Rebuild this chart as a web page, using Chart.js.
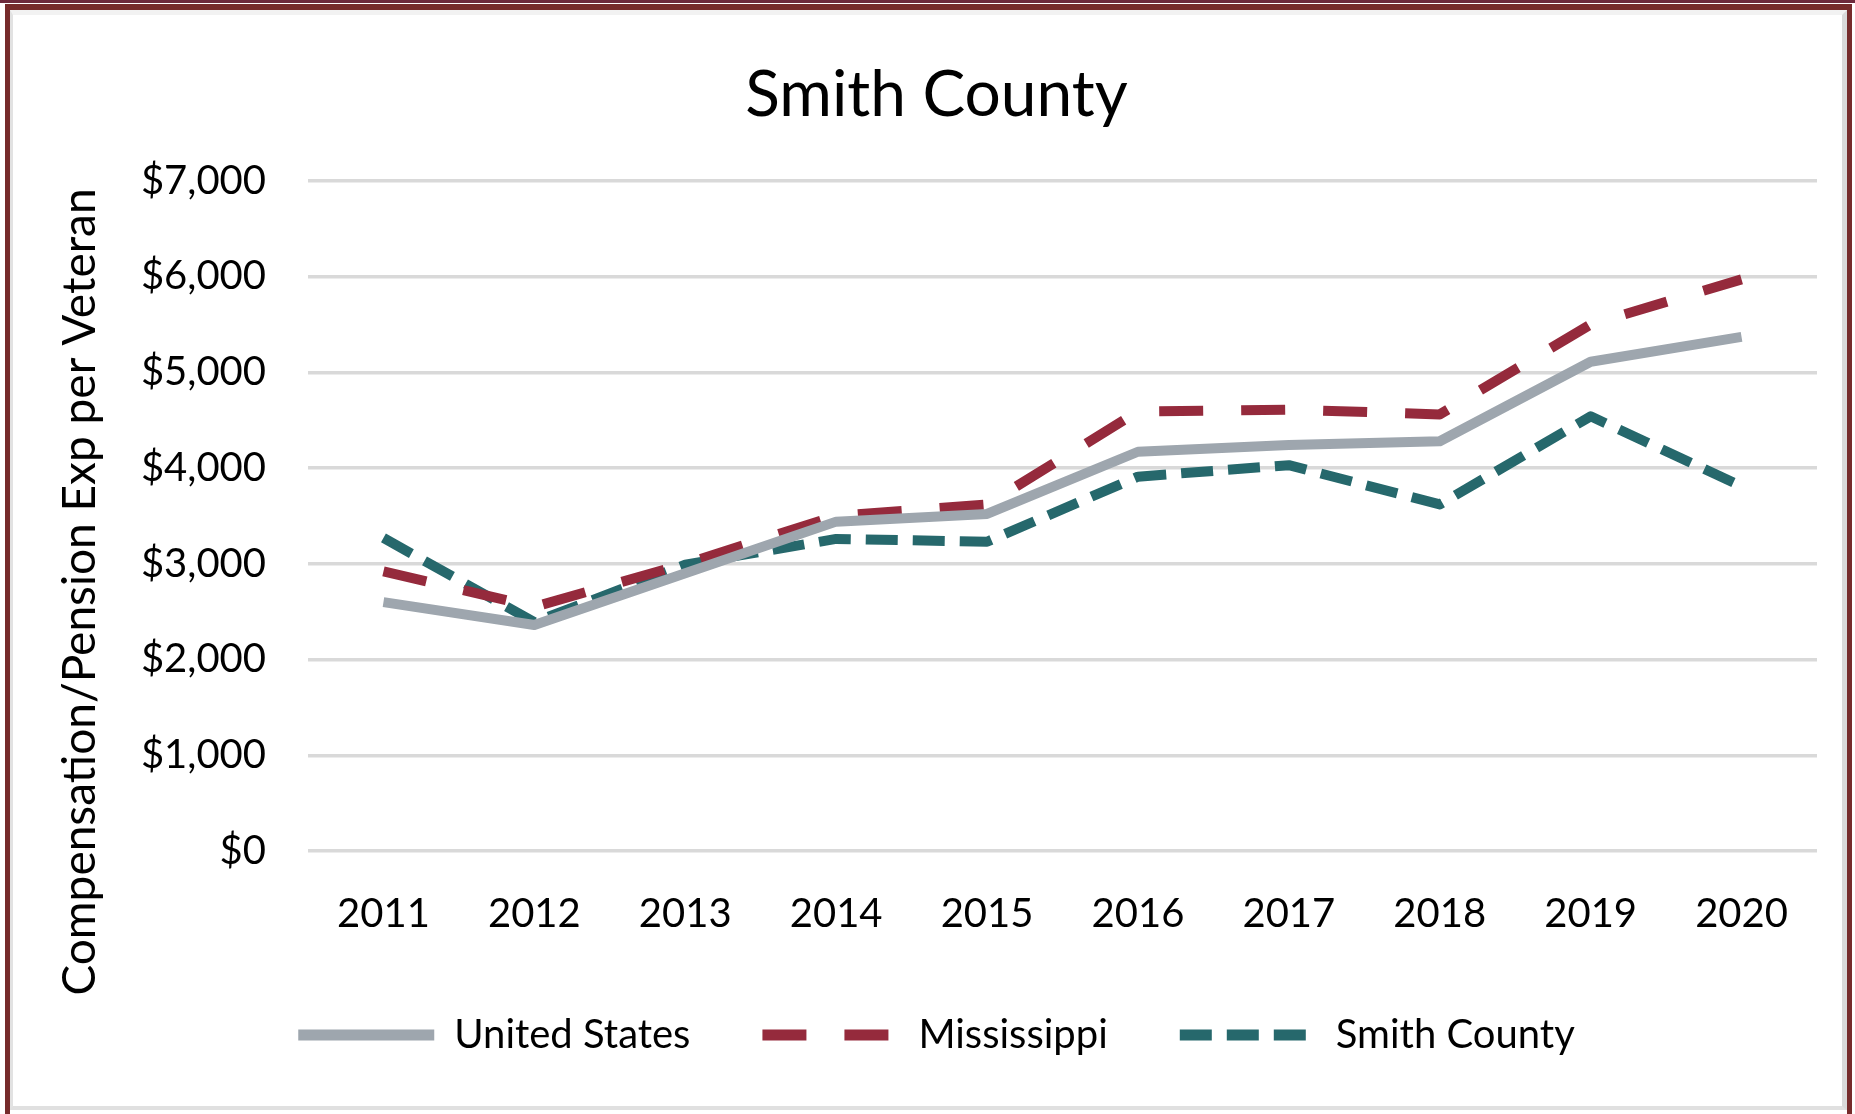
<!DOCTYPE html>
<html>
<head>
<meta charset="utf-8">
<script src="https://cdn.jsdelivr.net/npm/chart.js@4/dist/chart.umd.min.js"></script>
<style>
  html, body { margin: 0; padding: 0; background: #fff; }
  body { width: 1855px; height: 1114px; overflow: hidden; position: relative; }
  #topline { position: absolute; left: 0; top: 0; width: 1855px; height: 3px; background: #6d2a3c; }
  #frame { position: absolute; left: 5px; top: 4px; width: 1847px; height: 1110px; box-sizing: border-box;
           border-left: 5px solid #762b2b; border-right: 5px solid #762b2b; border-top: 6px solid #762b2b; }
  #inner { position: absolute; left: 0; top: 0; right: 0; bottom: 4px; box-sizing: border-box;
           border-left: 3px solid #e2e2e2; border-right: 5px solid #d9d9d9; border-top: 5px solid #f2f2f2; border-bottom: 4px solid #e0e0e0; }
  #chart { position: absolute; left: 0; top: 0; }
</style>
</head>
<body>
<div id="topline"></div>
<div id="frame"><div id="inner"></div></div>
<canvas id="chart" width="1855" height="1114"></canvas>
<script>
// values
const years = ['2011', '2012', '2013', '2014', '2015', '2016', '2017', '2018', '2019', '2020'];
const unitedStates = [2600, 2360, 2900, 3440, 3520, 4170, 4240, 4280, 5110, 5370];
const mississippi = [2920, 2550, 3000, 3500, 3620, 4590, 4610, 4560, 5500, 5970];
const smithCounty = [3270, 2390, 2990, 3260, 3230, 3910, 4030, 3620, 4540, 3810];
const yTickLabels = ['$0', '$1,000', '$2,000', '$3,000', '$4,000', '$5,000', '$6,000', '$7,000'];
const yAxisTitle = 'Compensation/Pension Exp per Veteran';

const fontFamily = 'Lato, "Open Sans", sans-serif';

// the y title sits lower than the plot centre in the original, so it's drawn by hand
const yTitlePlugin = {
  id: 'yTitle',
  afterDraw(chart) {
    const ctx = chart.ctx;
    ctx.save();
    ctx.translate(80, 592);
    ctx.rotate(-Math.PI / 2);
    ctx.font = `46px ${fontFamily}`;
    ctx.fillStyle = '#000';
    ctx.textAlign = 'center';
    ctx.textBaseline = 'middle';
    ctx.fillText(yAxisTitle, 0, 0);
    ctx.restore();
  }
};

// legend lines keep the dataset dash pattern
const legendLabels = (chart) =>
  Chart.defaults.plugins.legend.labels.generateLabels(chart).map((item, i) => ({
    ...item,
    lineDash: chart.data.datasets[i].borderDash || [],
    lineWidth: 11
  }));

new Chart(document.getElementById('chart'), {
  type: 'line',
  data: {
    labels: years,
    datasets: [
      {
        label: 'United States',
        data: unitedStates,
        borderColor: '#9ea6ae',
        backgroundColor: '#9ea6ae',
        borderWidth: 10,
      },
      {
        label: 'Mississippi',
        data: mississippi,
        borderColor: '#952a3c',
        backgroundColor: '#952a3c',
        borderWidth: 10,
        borderDash: [44, 38],
      },
      {
        label: 'Smith County',
        data: smithCounty,
        borderColor: '#26686c',
        backgroundColor: '#26686c',
        borderWidth: 10,
        borderDash: [32, 15],
      }
    ]
  },
  options: {
    responsive: false,
    animation: false,
    devicePixelRatio: 1,
    elements: {
      point: { radius: 0, hoverRadius: 0 },
      line: { tension: 0, borderCapStyle: 'butt', borderJoinStyle: 'round' }
    },
    layout: { padding: { top: 10, left: 56, right: 38, bottom: 49 } },
    plugins: {
      tooltip: { enabled: false },
      title: {
        display: true,
        text: 'Smith County',
        color: '#000',
        font: { family: fontFamily, size: 64, weight: 'normal', lineHeight: 1.2 },
        padding: { top: 47, bottom: 47 }
      },
      legend: {
        position: 'bottom',
        labels: {
          usePointStyle: true,
          pointStyle: 'line',
          pointStyleWidth: 136,
          boxWidth: 136,
          padding: 72,
          color: '#000',
          font: { family: fontFamily, size: 40 },
          generateLabels: legendLabels
        }
      }
    },
    scales: {
      x: {
        offset: true,
        grid: { display: false },
        border: { display: false },
        ticks: {
          color: '#000',
          padding: 31,
          maxRotation: 0,
          font: { family: fontFamily, size: 40, lineHeight: 1.2 }
        },
        afterFit: (scale) => { scale.height = 92; }
      },
      y: {
        min: 0,
        max: 7000,
        grid: { color: '#d9d9d9', lineWidth: 3.5, drawTicks: false },
        border: { display: false },
        ticks: {
          stepSize: 1000,
          color: '#000',
          padding: 42,
          font: { family: fontFamily, size: 40, lineHeight: 1.2 },
          callback: (value, index) => yTickLabels[index]
        },
        afterFit: (scale) => { scale.width = 252; }
      }
    }
  },
  plugins: [yTitlePlugin]
});
</script>
</body>
</html>
